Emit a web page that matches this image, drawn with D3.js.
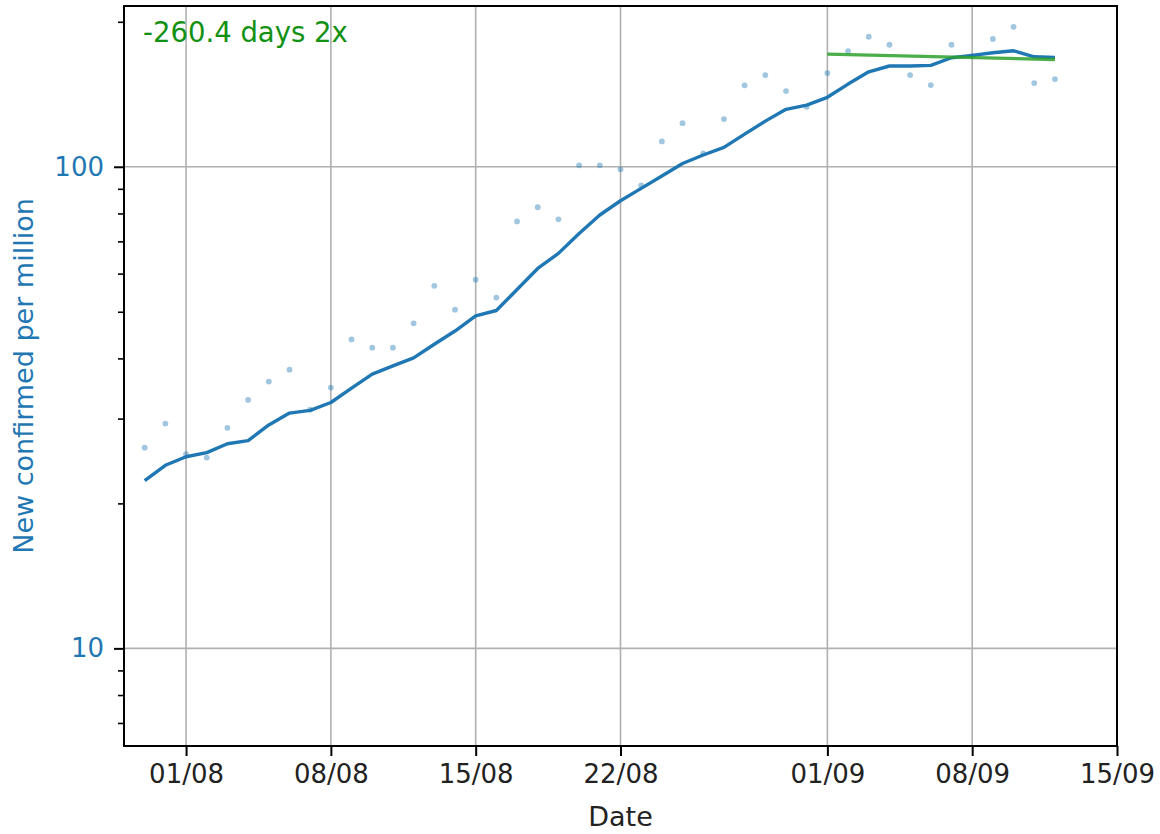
<!DOCTYPE html>
<html>
<head>
<meta charset="utf-8">
<script src="https://cdn.jsdelivr.net/npm/d3@7"></script>
<style>
	html, body { margin: 0; padding: 0; background: #ffffff; }
	svg { display: block; font-family: "DejaVu Sans", sans-serif; }
</style>
</head>
<body>
<div id="chart"></div>
<script>
// daily dates shown on the chart
const dates = [
	"2020-07-30", "2020-07-31", "2020-08-01", "2020-08-02", "2020-08-03", "2020-08-04", "2020-08-05",
	"2020-08-06", "2020-08-07", "2020-08-08", "2020-08-09", "2020-08-10", "2020-08-11", "2020-08-12",
	"2020-08-13", "2020-08-14", "2020-08-15", "2020-08-16", "2020-08-17", "2020-08-18", "2020-08-19",
	"2020-08-20", "2020-08-21", "2020-08-22", "2020-08-23", "2020-08-24", "2020-08-25", "2020-08-26",
	"2020-08-27", "2020-08-28", "2020-08-29", "2020-08-30", "2020-08-31", "2020-09-01", "2020-09-02",
	"2020-09-03", "2020-09-04", "2020-09-05", "2020-09-06", "2020-09-07", "2020-09-08", "2020-09-09",
	"2020-09-10", "2020-09-11", "2020-09-12"
];

// new confirmed per million, daily values (dots)
const dailyValues = [
	26.1, 29.3, 25.3, 24.9, 28.7, 32.8, 35.8,
	37.9, 31.3, 34.8, 43.8, 42.1, 42.1, 47.3,
	56.6, 50.5, 58.3, 53.5, 77.0, 82.4, 77.8,
	100.7, 100.7, 98.8, 91.5, 112.9, 123.2, 106.6,
	125.6, 147.6, 155.0, 143.6, 133.2, 156.5, 173.9,
	186.2, 179.2, 155.0, 147.8, 179.2, 169.8, 184.2,
	195.3, 149.2, 152.1
];

// 7 day average (solid line)
const averageValues = [
	22.3, 24.0, 25.0, 25.5, 26.6, 27.0, 29.1,
	30.8, 31.2, 32.4, 34.7, 37.1, 38.6, 40.1,
	42.8, 45.6, 49.0, 50.3, 55.6, 61.5, 66.1,
	72.7, 79.4, 85.0, 90.2, 95.7, 101.6, 105.8,
	109.7, 116.9, 124.4, 131.6, 134.3, 139.4, 148.5,
	157.5, 161.9, 161.9, 162.4, 168.4, 170.3, 172.5,
	174.1, 169.2, 168.7
];

// exponential fit over the last days (green line)
const fitDates = ["2020-09-01", "2020-09-12"];
const fitValues = [171.4, 167.0];
const fitLabel = "-260.4 days 2x";

// axis ticks
const xTickDates = ["2020-08-01", "2020-08-08", "2020-08-15", "2020-08-22", "2020-09-01", "2020-09-08", "2020-09-15"];
const xDomain = ["2020-07-29", "2020-09-15"];
const yDomain = [6.27, 215.7];
const yMajorTicks = [10, 100];
const yMinorTicks = [7, 8, 9, 20, 30, 40, 50, 60, 70, 80, 90, 200];

const width = 1160;
const height = 834;
const margin = {top: 6, right: 43, bottom: 88, left: 124};

const blue = "#1f77b4";
const parseDate = d3.utcParse("%Y-%m-%d");

const svg = d3.select("#chart").append("svg")
	.attr("width", width)
	.attr("height", height);

const x = d3.scaleUtc()
	.domain(xDomain.map(parseDate))
	.range([margin.left, width - margin.right]);

const y = d3.scaleLog()
	.domain(yDomain)
	.range([height - margin.bottom, margin.top]);

//clip everything to the plot area
svg.append("clipPath")
	.attr("id", "plot-clip")
	.append("rect")
		.attr("x", margin.left)
		.attr("y", margin.top)
		.attr("width", width - margin.left - margin.right)
		.attr("height", height - margin.top - margin.bottom);

//grid lines at major ticks
const grid = svg.append("g").attr("stroke", "#b0b0b0").attr("stroke-width", 1.6);
grid.selectAll(".vgrid")
	.data(xTickDates)
	.enter()
	.append("line")
		.attr("x1", d => x(parseDate(d)))
		.attr("x2", d => x(parseDate(d)))
		.attr("y1", margin.top)
		.attr("y2", height - margin.bottom);
grid.selectAll(".hgrid")
	.data(yMajorTicks)
	.enter()
	.append("line")
		.attr("x1", margin.left)
		.attr("x2", width - margin.right)
		.attr("y1", d => y(d))
		.attr("y2", d => y(d));

const plot = svg.append("g").attr("clip-path", "url(#plot-clip)");

//daily dots
plot.selectAll(".dot")
	.data(dates)
	.enter()
	.append("circle")
		.attr("cx", d => x(parseDate(d)))
		.attr("cy", (d, i) => y(dailyValues[i]))
		.attr("r", 2.9)
		.attr("fill", blue)
		.attr("fill-opacity", 0.42);

//rolling average line
const line = d3.line()
	.x(d => x(parseDate(d[0])))
	.y(d => y(d[1]));

plot.append("path")
	.datum(d3.zip(dates, averageValues))
	.attr("d", line)
	.attr("fill", "none")
	.attr("stroke", blue)
	.attr("stroke-width", 3.4)
	.attr("stroke-linejoin", "round");

//fit line
plot.append("path")
	.datum(d3.zip(fitDates, fitValues))
	.attr("d", line)
	.attr("fill", "none")
	.attr("stroke", "#2ca02c")
	.attr("stroke-opacity", 0.85)
	.attr("stroke-width", 3.4);

//x axis
const xAxis = svg.append("g")
	.attr("transform", `translate(0,${height - margin.bottom})`)
	.call(d3.axisBottom(x)
		.tickValues(xTickDates.map(parseDate))
		.tickFormat(d3.utcFormat("%d/%m"))
		.tickSizeInner(10)
		.tickSizeOuter(0)
		.tickPadding(9));
xAxis.select(".domain").remove();
xAxis.selectAll(".tick line").attr("stroke", "#000").attr("stroke-width", 2);
xAxis.selectAll(".tick text")
	.attr("fill", "#222")
	.attr("font-size", 26)
	.attr("font-family", "DejaVu Sans");

//y axis, major ticks
const yAxis = svg.append("g")
	.attr("transform", `translate(${margin.left},0)`)
	.call(d3.axisLeft(y)
		.tickValues(yMajorTicks)
		.tickFormat(d3.format("d"))
		.tickSizeInner(10)
		.tickSizeOuter(0)
		.tickPadding(10));
yAxis.select(".domain").remove();
yAxis.selectAll(".tick line").attr("stroke", "#000").attr("stroke-width", 2);
yAxis.selectAll(".tick text")
	.attr("fill", blue)
	.attr("font-size", 26)
	.attr("font-family", "DejaVu Sans");

//y axis, minor ticks
svg.append("g")
	.attr("transform", `translate(${margin.left},0)`)
	.call(d3.axisLeft(y)
		.tickValues(yMinorTicks)
		.tickFormat("")
		.tickSizeInner(6)
		.tickSizeOuter(0))
	.call(g => g.select(".domain").remove())
	.selectAll(".tick line").attr("stroke", "#000").attr("stroke-width", 1.6);

//plot frame
svg.append("rect")
	.attr("x", margin.left)
	.attr("y", margin.top)
	.attr("width", width - margin.left - margin.right)
	.attr("height", height - margin.top - margin.bottom)
	.attr("fill", "none")
	.attr("stroke", "#000")
	.attr("stroke-width", 2);

//axis labels
svg.append("text")
	.attr("x", (margin.left + width - margin.right) / 2)
	.attr("y", 826)
	.attr("text-anchor", "middle")
	.attr("font-size", 27)
	.attr("fill", "#222")
	.text("Date");

svg.append("text")
	.attr("transform", `translate(32.5,${(margin.top + height - margin.bottom) / 2}) rotate(-90)`)
	.attr("text-anchor", "middle")
	.attr("font-size", 27)
	.attr("fill", blue)
	.text("New confirmed per million");

//doubling time annotation
svg.append("text")
	.attr("x", 143)
	.attr("y", 42)
	.attr("font-size", 27.5)
	.attr("fill", "#139113")
	.text(fitLabel);
</script>
</body>
</html>
